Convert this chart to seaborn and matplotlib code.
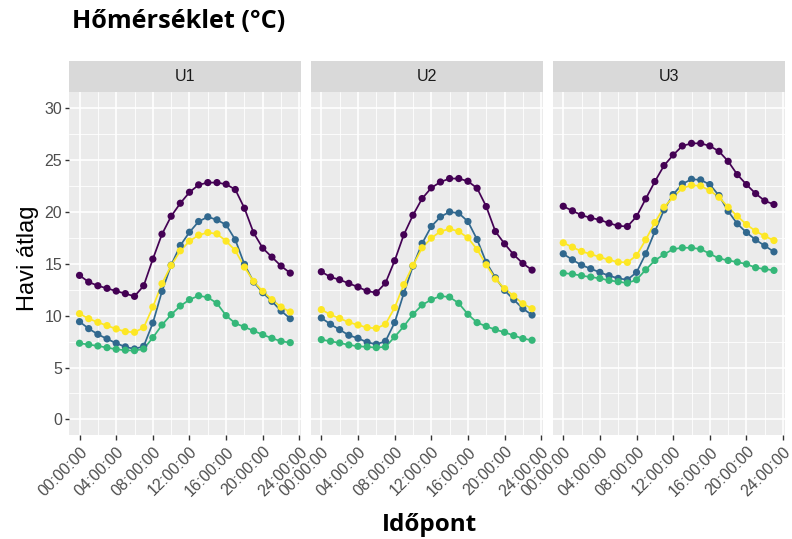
import matplotlib
matplotlib.use("Agg")
import matplotlib.pyplot as plt
import seaborn as sns
import pandas as pd
import numpy as np

# Hourly positions (0..23 h) and axis labels
hours = list(range(24))
tick_hours = [0, 4, 8, 12, 16, 20, 24]
tick_labels = ["00:00:00", "04:00:00", "08:00:00", "12:00:00",
               "16:00:00", "20:00:00", "24:00:00"]
panels = ["U1", "U2", "U3"]
series = ["1. hónap", "2. hónap", "3. hónap", "4. hónap"]
palette = ["#440154", "#31688E", "#35B779", "#FDE725"]

# Monthly mean temperature per hour, one list per site and series
u1_s1 = [13.88, 13.24, 12.88, 12.63, 12.37, 12.12, 11.86, 12.88, 15.45, 17.85, 19.58, 20.83,
         21.89, 22.60, 22.82, 22.82, 22.66, 22.15, 20.35, 17.98, 16.50, 15.64, 14.78, 14.10]
u1_s2 = [9.42, 8.75, 8.20, 7.76, 7.34, 6.99, 6.79, 7.05, 9.29, 12.34, 14.87, 16.76,
         18.04, 19.07, 19.52, 19.23, 18.75, 17.31, 14.94, 13.24, 12.21, 11.38, 10.45, 9.71]
u1_s3 = [7.34, 7.21, 7.08, 6.92, 6.76, 6.67, 6.63, 6.79, 7.88, 9.10, 10.10, 10.93,
         11.54, 11.92, 11.76, 11.19, 10.00, 9.26, 8.91, 8.53, 8.17, 7.82, 7.53, 7.40]
u1_s4 = [10.19, 9.71, 9.36, 9.04, 8.72, 8.46, 8.40, 8.85, 10.83, 13.08, 14.84, 16.25,
         17.18, 17.76, 18.01, 17.88, 17.18, 16.28, 14.68, 13.30, 12.34, 11.54, 10.83, 10.35]

u2_s1 = [14.23, 13.72, 13.46, 13.11, 12.76, 12.37, 12.21, 13.14, 15.29, 17.79, 19.68, 21.28,
         22.31, 22.88, 23.21, 23.21, 22.95, 22.28, 20.51, 18.11, 16.92, 15.87, 15.03, 14.39]
u2_s2 = [9.78, 9.17, 8.65, 8.11, 7.82, 7.44, 7.24, 7.53, 9.33, 12.15, 14.78, 16.96,
         18.59, 19.52, 20.00, 19.87, 19.07, 17.34, 15.13, 13.65, 12.44, 11.54, 10.67, 10.06]
u2_s3 = [7.69, 7.53, 7.37, 7.18, 7.05, 6.99, 6.92, 6.99, 7.95, 8.97, 10.13, 11.03,
         11.54, 11.89, 11.79, 11.19, 10.13, 9.33, 8.97, 8.65, 8.40, 8.08, 7.79, 7.63]
u2_s4 = [10.58, 10.10, 9.74, 9.36, 9.10, 8.85, 8.78, 9.17, 10.77, 12.98, 14.84, 16.54,
         17.47, 18.11, 18.37, 18.11, 17.50, 16.38, 14.90, 13.53, 12.60, 11.89, 11.15, 10.67]

u3_s1 = [20.54, 20.10, 19.68, 19.42, 19.23, 18.91, 18.65, 18.59, 19.55, 21.25, 22.92, 24.46,
         25.48, 26.35, 26.60, 26.60, 26.35, 25.83, 24.87, 23.59, 22.63, 21.76, 21.06, 20.71]
u3_s2 = [15.96, 15.38, 14.87, 14.52, 14.17, 13.85, 13.59, 13.46, 14.17, 15.96, 18.11, 20.19,
         21.67, 22.69, 23.14, 23.08, 22.63, 21.57, 20.06, 18.85, 18.01, 17.31, 16.73, 16.15]
u3_s3 = [14.10, 14.01, 13.85, 13.72, 13.59, 13.40, 13.27, 13.14, 13.46, 14.42, 15.32, 15.90,
         16.41, 16.54, 16.54, 16.41, 15.96, 15.51, 15.32, 15.16, 14.97, 14.62, 14.49, 14.36]
u3_s4 = [17.02, 16.60, 16.19, 15.93, 15.64, 15.38, 15.16, 15.13, 15.80, 17.31, 18.97, 20.45,
         21.41, 22.28, 22.56, 22.50, 22.05, 21.41, 20.45, 19.58, 18.78, 18.14, 17.66, 17.24]

values = {
    "U1": [u1_s1, u1_s2, u1_s3, u1_s4],
    "U2": [u2_s1, u2_s2, u2_s3, u2_s4],
    "U3": [u3_s1, u3_s2, u3_s3, u3_s4],
}

rows = []
for p in panels:
    for name, vals in zip(series, values[p]):
        for h, v in zip(hours, vals):
            rows.append({"panel": p, "series": name, "hour": h, "temp": v})
df = pd.DataFrame(rows)

sns.set_theme(style="darkgrid")
plt.rcParams["font.family"] = ["Liberation Sans", "DejaVu Sans"]

W, H = 792, 539
fig = plt.figure(figsize=(W / 100, H / 100), dpi=100)
fig.patch.set_facecolor("white")


def px_rect(x0, y0, x1, y1):
    return [x0 / W, 1 - y1 / H, (x1 - x0) / W, (y1 - y0) / H]


lefts = [69.0, 310.8, 552.7]
pw = 231.8
top, bottom = 92.5, 435.0
strip_top = 61.0

for i, p in enumerate(panels):
    x0 = lefts[i]
    ax = fig.add_axes(px_rect(x0, top, x0 + pw, bottom))
    sub = df[df["panel"] == p]
    sns.lineplot(data=sub, x="hour", y="temp", hue="series", hue_order=series,
                 palette=palette, linewidth=1.25, legend=False, ax=ax, zorder=3)
    sns.scatterplot(data=sub, x="hour", y="temp", hue="series", hue_order=series,
                    palette=palette, s=27, linewidth=0, legend=False, ax=ax, zorder=4)
    ax.set_facecolor("#EBEBEB")
    ax.set_xlim(-1.15, 24.15)
    ax.set_ylim(-1.5, 31.5)
    ax.set_xticks(tick_hours)
    ax.set_xticks(np.arange(2, 24, 4), minor=True)
    ax.set_yticks(np.arange(0, 31, 5))
    ax.set_yticks(np.arange(2.5, 31, 5), minor=True)
    ax.grid(which="major", color="white", linewidth=1.2)
    ax.grid(which="minor", color="white", linewidth=0.6)
    ax.set_axisbelow(True)
    for s in ax.spines.values():
        s.set_visible(False)
    ax.set_xlabel("")
    ax.set_ylabel("")
    ax.set_xticklabels(tick_labels, rotation=45, ha="right", rotation_mode="anchor",
                       fontsize=11.5, color="#4D4D4D")
    ax.tick_params(axis="x", which="major", length=3.5, width=1.0, color="#333333",
                   pad=3, bottom=True)
    ax.tick_params(axis="x", which="minor", length=0)
    if i == 0:
        ax.set_yticklabels([str(v) for v in range(0, 31, 5)], fontsize=11.5, color="#4D4D4D")
        ax.tick_params(axis="y", which="major", length=3, width=1.0, color="#333333",
                       pad=2, left=True)
    else:
        ax.set_yticklabels([])
        ax.tick_params(axis="y", which="major", length=0)
    ax.tick_params(axis="y", which="minor", length=0)

    # facet strip
    sax = fig.add_axes(px_rect(x0, strip_top, x0 + pw, top))
    sax.set_facecolor("#D9D9D9")
    sax.set_xticks([])
    sax.set_yticks([])
    sax.grid(False)
    for s in sax.spines.values():
        s.set_visible(False)
    sax.text(0.5, 0.5, p, ha="center", va="center", fontsize=11.5, color="#1A1A1A",
             transform=sax.transAxes)

fig.text(72 / W, 1 - 28.5 / H, "Hőmérséklet (°C)", fontsize=18.2, fontweight="bold",
         family=["Open Sans", "DejaVu Sans"], ha="left", va="baseline", color="black")
fig.text(430 / W, 1 - 531 / H, "Időpont", fontsize=17.5, fontweight="bold",
         family=["Open Sans", "DejaVu Sans"], ha="center", va="baseline", color="black")
fig.text(28 / W, 1 - 258 / H, "Havi átlag", fontsize=17, rotation=90,
         ha="center", va="center", color="black")

fig.savefig("out.png", dpi=100, facecolor="white")
